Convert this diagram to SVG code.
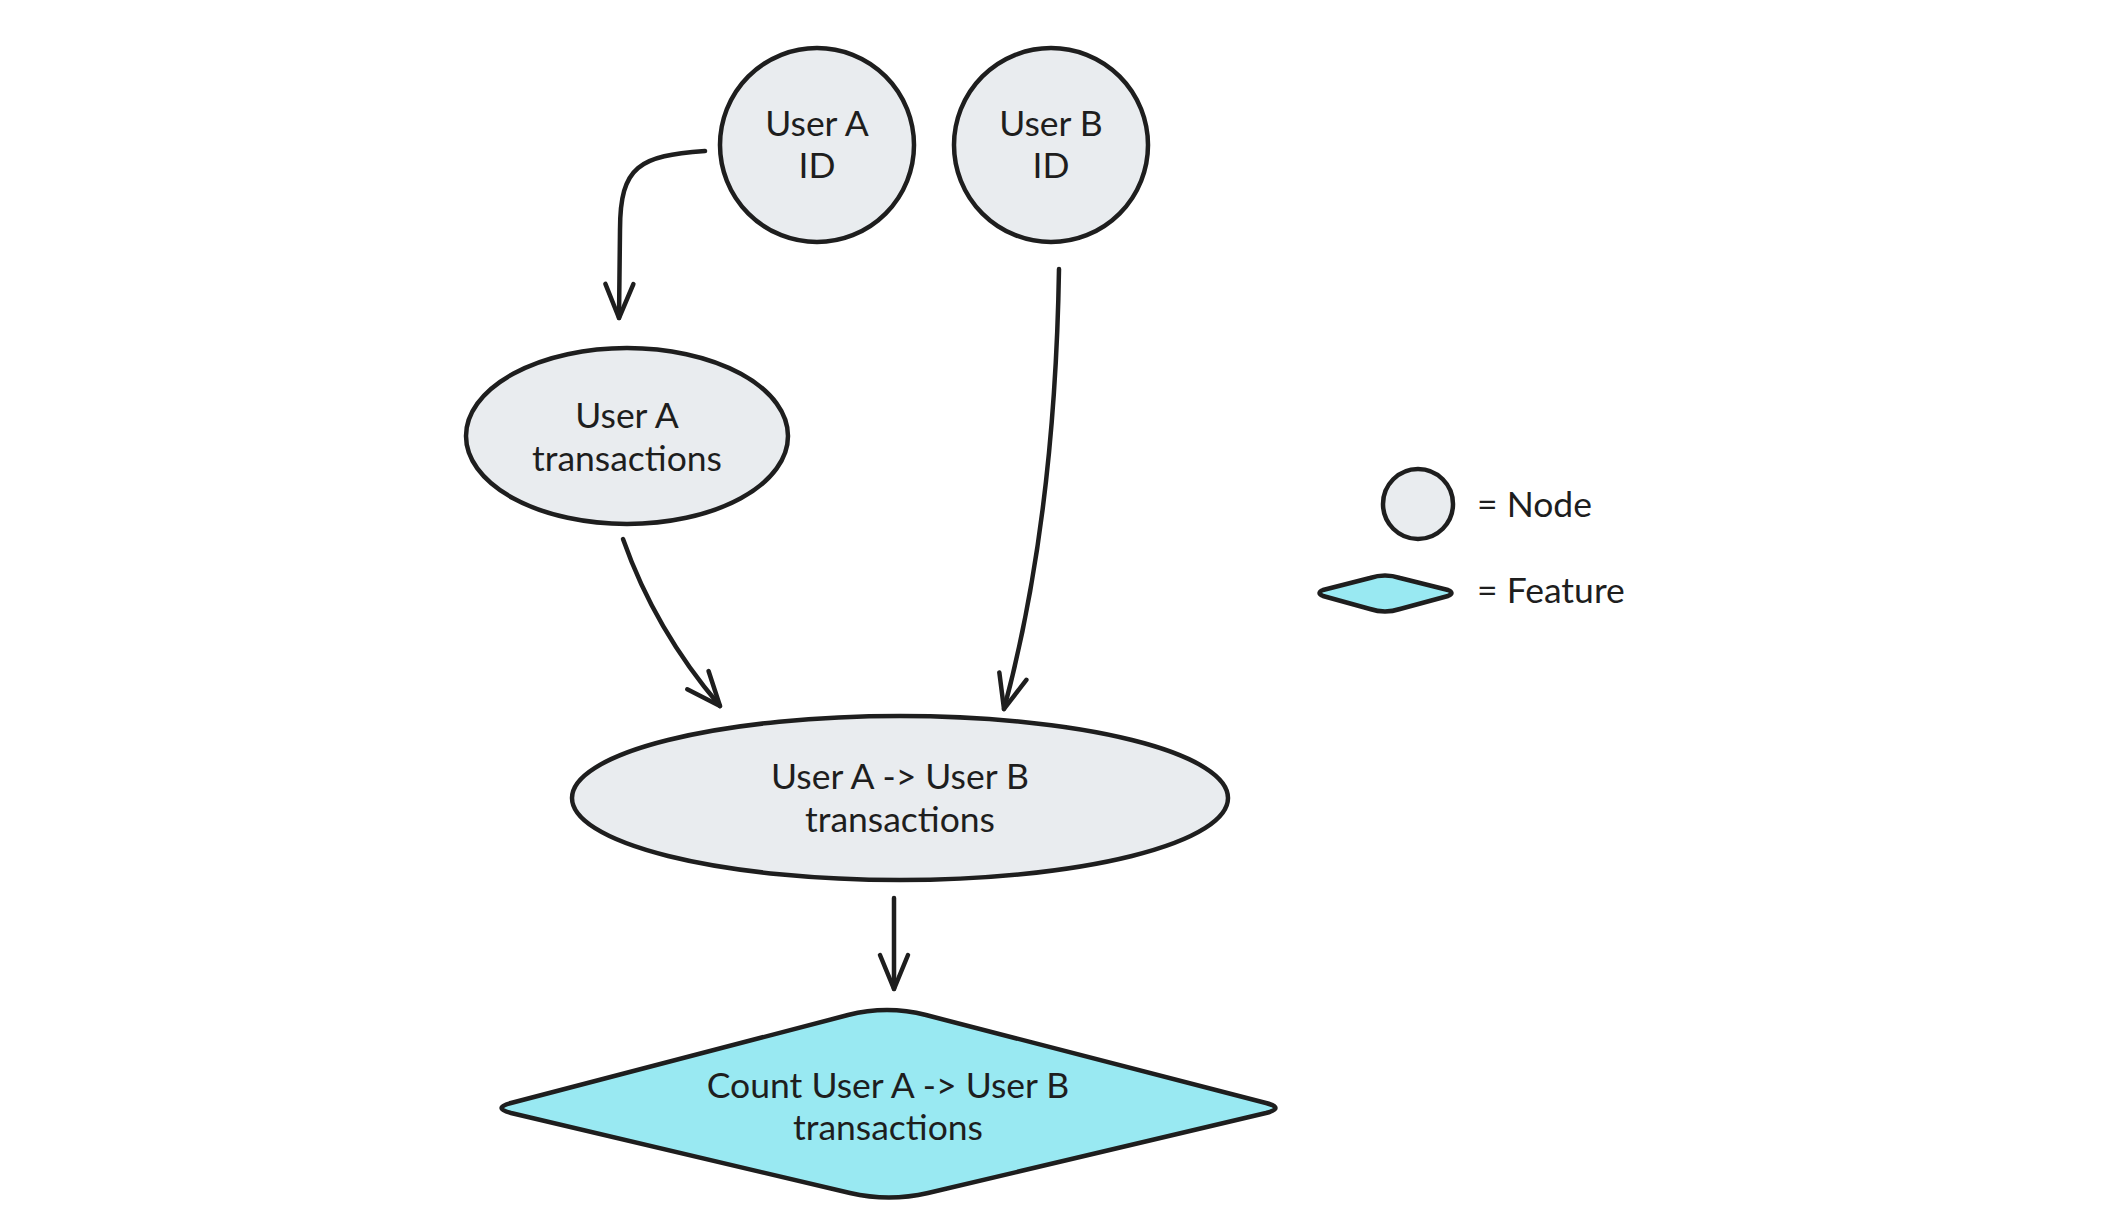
<svg xmlns="http://www.w3.org/2000/svg" width="2102" height="1230" viewBox="0 0 2102 1230">
<style>
.node{fill:#e9ecef;stroke:#1e1e1e;stroke-width:4.5}
.feat{fill:#99e9f2;stroke:#1e1e1e;stroke-width:4.5;stroke-linejoin:round}
.lbl{font-family:Lato,"Noto Sans",sans-serif;font-size:35.5px;fill:#1e1e1e;text-anchor:middle;dominant-baseline:central}
.leg{font-family:Lato,"Noto Sans",sans-serif;font-size:35.5px;fill:#1e1e1e;dominant-baseline:central}
.edge{fill:none;stroke:#1e1e1e;stroke-width:4.5;stroke-linecap:round;marker-end:url(#ah)}
</style>
<defs>
<marker id="ah" markerUnits="userSpaceOnUse" viewBox="-40 -20 45 40" refX="0" refY="0" markerWidth="45" markerHeight="40" orient="auto">
<path d="M -34 -14 L 0 0 L -34 14" fill="none" stroke="#1e1e1e" stroke-width="4.5" stroke-linecap="round" stroke-linejoin="round"/>
</marker>
</defs>
<rect width="2102" height="1230" fill="#ffffff"/>
<g id="connectors">
<path class="edge" d="M 705 151 C 640 156, 620 165, 620 230 L 619 318"/>
<path class="edge" d="M 623 539 Q 655 630 720 706"/>
<path class="edge" d="M 1059 269 Q 1055 520 1004 709"/>
<path class="edge" d="M 894 898 L 894 989"/>
</g>
<g id="userA-id">
<circle class="node" cx="817" cy="145" r="97"/>
<text class="lbl" x="817" y="122">User A</text>
<text class="lbl" x="817" y="164">ID</text>
</g>
<g id="userB-id">
<circle class="node" cx="1051" cy="145" r="97"/>
<text class="lbl" x="1051" y="122">User B</text>
<text class="lbl" x="1051" y="164">ID</text>
</g>
<g id="userA-tx">
<ellipse class="node" cx="627" cy="436" rx="161" ry="88"/>
<text class="lbl" x="627" y="414">User A</text>
<text class="lbl" x="627" y="457">transactions</text>
</g>
<g id="ab-tx">
<ellipse class="node" cx="900" cy="798" rx="328" ry="82"/>
<text class="lbl" x="900" y="775">User A -&gt; User B</text>
<text class="lbl" x="900" y="818">transactions</text>
</g>
<g id="count-feature">
<path class="feat" d="M 848 1015 Q 887 1005 926 1015 L 1266 1103 Q 1285 1108 1266 1113 L 928 1193 Q 889 1202 850 1193 L 511 1113 Q 492 1108 511 1103 Z"/>
<text class="lbl" x="888" y="1084">Count User A -&gt; User B</text>
<text class="lbl" x="888" y="1126">transactions</text>
</g>
<g id="legend-node">
<circle class="node" cx="1418" cy="504" r="35"/>
<text class="leg" x="1477" y="503">= Node</text>
</g>
<g id="legend-feature">
<path class="feat" d="M 1370 578 Q 1385 573 1400 578 L 1448 590 Q 1455 593 1448 596 L 1400 609 Q 1385 614 1370 609 L 1323 596 Q 1316 593 1323 590 Z"/>
<text class="leg" x="1477" y="589">= Feature</text>
</g>
</svg>
